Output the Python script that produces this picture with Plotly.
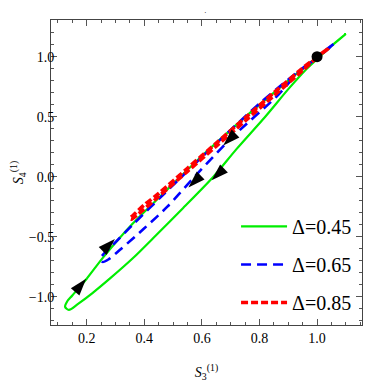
import plotly.graph_objects as go

# curves (S3, S4 pairs), each a thin closed loop
green_x = [1.10, 1.05, 1.00, 0.96, 0.90, 0.82, 0.72, 0.64, 0.535, 0.44, 0.36, 0.28, 0.22, 0.17,
           0.138, 0.125, 0.132, 0.15, 0.2, 0.258, 0.36, 0.47, 0.59, 0.70, 0.80, 0.90, 0.975, 1.05, 1.10]
green_y = [1.19, 1.09, 0.98, 0.89, 0.73, 0.50, 0.23, 0.0, -0.26, -0.49, -0.68, -0.85, -0.97, -1.06,
           -1.11, -1.085, -1.04, -0.99, -0.85, -0.67, -0.39, -0.13, 0.15, 0.39, 0.60, 0.80, 0.95, 1.09, 1.19]

blue_x = [1.06, 1.00, 0.94, 0.86, 0.71, 0.59, 0.48, 0.40, 0.32, 0.275, 0.255, 0.248,
          0.26, 0.29, 0.36, 0.47, 0.59, 0.70, 0.80, 0.90, 1.00, 1.06]
blue_y = [1.11, 0.99, 0.88, 0.67, 0.34, 0.04, -0.25, -0.43, -0.60, -0.69, -0.71, -0.68,
          -0.64, -0.57, -0.40, -0.14, 0.14, 0.39, 0.61, 0.81, 1.00, 1.11]

red_x = [1.04, 1.00, 0.95, 0.85, 0.75, 0.65, 0.55, 0.45, 0.38, 0.355, 0.35,
         0.36, 0.40, 0.45, 0.55, 0.65, 0.75, 0.85, 0.95, 1.00, 1.04]
red_y = [1.07, 0.995, 0.885, 0.675, 0.465, 0.255, 0.045, -0.165, -0.31, -0.355, -0.35,
         -0.325, -0.235, -0.14, 0.07, 0.28, 0.49, 0.70, 0.905, 1.0, 1.07]

# direction arrowheads along the loops
arrow_x = [0.198, 0.298, 0.553, 0.634, 0.674]
arrow_y = [-0.85, -0.52, -0.09, -0.03, 0.26]
arrow_angle = [40, 46, 226, 226, 226]

start_x = [1.0]
start_y = [1.0]

series = [
    ("Δ=0.45", green_x, green_y, "#00ee00", 2.2, "solid"),
    ("Δ=0.65", blue_x, blue_y, "#0000ff", 2.6, "10px,6px"),
    ("Δ=0.85", red_x, red_y, "#ff0000", 3.6, "7px,3px"),
]

serif = "Liberation Serif"

fig = go.Figure()

for i, (name, xs, ys, color, width, dash) in enumerate(series):
    fig.add_trace(go.Scatter(
        x=xs, y=ys, mode="lines", name=name,
        legendgroup=f"g{i}",
        line=dict(color=color, width=width, dash=dash, shape="spline", smoothing=0.8)
    ))

fig.add_trace(go.Scatter(
    x=arrow_x, y=arrow_y, mode="markers", showlegend=False,
    marker=dict(symbol="arrow", size=18, angle=arrow_angle, color="black")
))

fig.add_trace(go.Scatter(
    x=start_x, y=start_y, mode="markers", showlegend=False,
    marker=dict(symbol="circle", size=11, color="black")
))

axis_common = dict(
    showgrid=False, zeroline=False, automargin=False,
    showline=True, linecolor="#444", linewidth=1, mirror="allticks",
    ticks="inside", ticklen=6, tickcolor="#555",
    tickfont=dict(family=serif, size=14, color="black"),
)

# the page body adds an 8px margin, so the figure is 374px and margins are shifted
fig.update_layout(
    width=374, height=374,
    margin=dict(l=43, r=20, t=12, b=57),
    plot_bgcolor="white", paper_bgcolor="white",
    font=dict(family=serif, size=14, color="black"),
    xaxis=dict(
        range=[0.076, 1.156], tick0=0.2, dtick=0.2, tickformat=".1f",
        minor=dict(ticks="inside", ticklen=3, dtick=0.05, tickcolor="#555"),
        title=dict(text="<i>S</i><sub>3</sub><sup>(1)</sup>", standoff=26,
                   font=dict(family=serif, size=14)),
        **axis_common
    ),
    yaxis=dict(
        range=[-1.236, 1.306], tick0=0, dtick=0.5, tickformat=".1f",
        ticklabelstandoff=-7,
        minor=dict(ticks="inside", ticklen=3, dtick=0.1, tickcolor="#555"),
        title=dict(text="<i>S</i><sub>4</sub><sup>(1)</sup>", standoff=10,
                   font=dict(family=serif, size=14)),
        **axis_common
    ),
    legend=dict(
        x=0.595, y=0.387, xanchor="left", yanchor="top",
        bgcolor="rgba(0,0,0,0)", tracegroupgap=9, itemwidth=46,
        font=dict(family=serif, size=20, color="black"),
    ),
)

# stray dots present in the original figure
fig.add_annotation(x=0.497, y=1.0, xref="paper", yref="paper", yanchor="bottom",
                   text="·", showarrow=False, font=dict(family=serif, size=8, color="black"), yshift=1)
fig.add_annotation(x=1.0, y=0.505, xref="paper", yref="paper", xanchor="left",
                   text="·", showarrow=False, font=dict(family=serif, size=8, color="black"), xshift=12)

fig.write_html("out.html")
